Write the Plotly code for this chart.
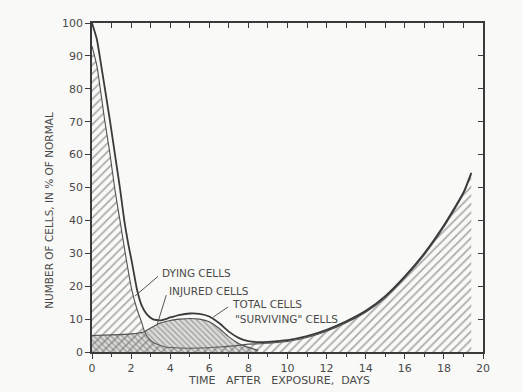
import plotly.graph_objects as go

# Total cell count (% of normal) against days after exposure
days_total = [0, 0.25, 0.5, 0.9, 1.2, 1.45, 1.65, 1.85, 2.05, 2.3, 2.55, 2.8, 3.1, 3.5, 4,
              4.5, 5, 5.5, 6, 6.5, 7, 7.5, 8, 8.6, 9, 10, 11, 12, 13, 14, 15, 16, 17, 18, 19, 19.4]
total_cells = [100, 95, 86, 71, 59, 49, 40, 33, 27, 19, 14, 11.5, 10, 9.6, 10.5,
               11.3, 11.7, 11.6, 10.8, 8.8, 6.2, 4.3, 3.3, 3.0, 3.1, 3.6, 4.8, 6.7, 9.3, 12.5, 17, 23, 30, 38.5, 48.5, 54.5]

# "Surviving" cells
days_surv = [0, 0.25, 0.66, 0.9, 1.18, 1.43, 1.7, 2.03, 2.3, 2.54, 2.7, 3.0, 3.3, 3.7, 4.5, 5.5,
             6.5, 7.5, 8, 8.6, 9, 10, 11, 12, 13, 14, 15, 16, 17, 18, 19, 19.4]
surviving_cells = [93, 87, 70, 61, 49, 40, 30, 19, 13, 9, 6, 3.5, 2.4, 1.6, 1.2, 1.2,
                   1.5, 2, 2.4, 2.5, 2.7, 3.2, 4.4, 6.3, 8.9, 12.1, 16.5, 22.5, 29.5, 38, 48, 54]

# Injured cells
days_inj = [0, 1, 2, 2.6, 3.0, 3.5, 4, 4.5, 5, 5.5, 6, 6.5, 7, 7.5, 8, 8.5]
injured_cells = [5, 5.2, 5.5, 6, 7.3, 8.8, 9.6, 10, 10.2, 10, 9.2, 7.2, 4.6, 2.6, 1.4, 0.5]

x_ticks = [0, 2, 4, 6, 8, 10, 12, 14, 16, 18, 20]
y_ticks = [0, 10, 20, 30, 40, 50, 60, 70, 80, 90, 100]

INK = "#3a3a3a"
TXT = "#4a4a4a"
FONT = "DejaVu Sans"

fig = go.Figure()

fig.add_trace(go.Scatter(
    x=days_surv, y=surviving_cells, mode="lines", fill="tozeroy",
    line=dict(color="#505050", width=1.1, shape="spline", smoothing=0.5),
    fillcolor="rgba(0,0,0,0)",
    fillpattern=dict(shape="/", size=6, solidity=0.28, fgcolor="#5a5a5a"),
    showlegend=False, hoverinfo="skip"))

fig.add_trace(go.Scatter(
    x=days_inj, y=injured_cells, mode="lines", fill="tozeroy",
    line=dict(color="#505050", width=1.1, shape="spline", smoothing=0.5),
    fillcolor="rgba(120,120,120,0.22)",
    fillpattern=dict(shape="\\", size=4, solidity=0.35, fgcolor="#666666"),
    showlegend=False, hoverinfo="skip"))

fig.add_trace(go.Scatter(
    x=days_total, y=total_cells, mode="lines",
    line=dict(color=INK, width=1.8, shape="spline", smoothing=0.5),
    showlegend=False, hoverinfo="skip"))

# labels with leader lines
labels = [
    ("DYING CELLS", 3.48, 24.0, 3.38, 23.0, 2.2, 17.0),
    ("INJURED CELLS", 3.84, 18.5, 3.8, 17.3, 3.33, 8.3),
    ("TOTAL CELLS", 7.06, 14.6, 6.96, 13.7, 6.2, 10.6),
    ("\"SURVIVING\" CELLS", 7.2, 10.0, None, None, None, None),
]
for text, tx, ty, x0, y0, x1, y1 in labels:
    fig.add_annotation(x=tx, y=ty, xref="x", yref="y", text=text, showarrow=False,
                       xanchor="left", yanchor="middle",
                       font=dict(family=FONT, size=10.5, color=TXT))
    if x0 is not None:
        fig.add_shape(type="line", xref="x", yref="y", x0=x0, y0=y0, x1=x1, y1=y1,
                      line=dict(color="#555555", width=1))

fig.add_annotation(xref="paper", yref="paper", x=0.478, y=-0.088,
                   text="TIME   AFTER   EXPOSURE,  DAYS", showarrow=False,
                   xanchor="center", yanchor="middle",
                   font=dict(family=FONT, size=11, color=TXT))
fig.add_annotation(xref="paper", yref="paper", x=-0.112, y=0.43,
                   text="NUMBER OF CELLS, IN % OF NORMAL", showarrow=False,
                   textangle=-90, xanchor="center", yanchor="middle",
                   font=dict(family=FONT, size=10.5, color=TXT))

axis_common = dict(showgrid=False, zeroline=False, showline=True,
                   linecolor=INK, linewidth=1.5, tickcolor=INK, tickwidth=1.2)

fig.update_layout(
    width=523, height=392,
    margin=dict(l=92, r=40, t=23, b=40),
    paper_bgcolor="#f9f9f7", plot_bgcolor="#f9f9f7",
    xaxis=dict(range=[0, 20], tickvals=x_ticks, ticks="outside", ticklen=5,
               minor=dict(dtick=1, ticks="outside", ticklen=3, tickcolor=INK),
               tickfont=dict(family=FONT, size=11, color=TXT), **axis_common),
    yaxis=dict(range=[0, 100], tickvals=y_ticks, ticks="outside", ticklen=5,
               tickfont=dict(family=FONT, size=11, color=TXT), **axis_common),
    xaxis2=dict(range=[0, 20], overlaying="x", side="top", dtick=1, tick0=0,
                ticks="inside", ticklen=5, showticklabels=False, **axis_common),
    yaxis2=dict(range=[0, 100], overlaying="y", side="right", dtick=10, tick0=0,
                ticks="inside", ticklen=5, showticklabels=False, **axis_common),
)

# invisible trace so the top and right frame axes are drawn
fig.add_trace(go.Scatter(x=[0, 20], y=[0, 100], xaxis="x2", yaxis="y2", mode="lines",
                         line=dict(width=0), opacity=0, showlegend=False, hoverinfo="skip"))

fig.write_html("out.html")
